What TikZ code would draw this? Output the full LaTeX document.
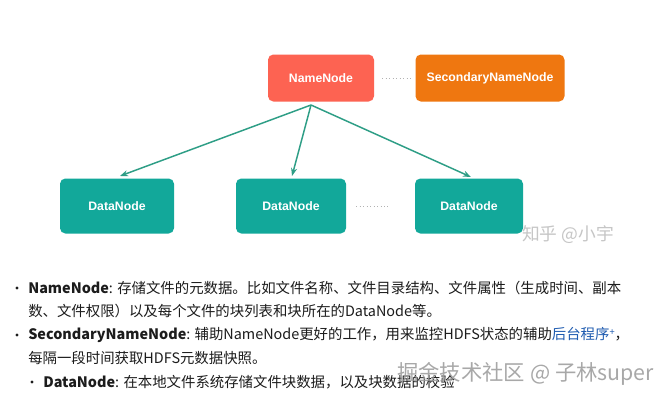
\documentclass[tikz,border=0pt]{standalone}
\usepackage{fontspec}
\setmainfont{Liberation Sans}
\newfontfamily\cjk{Noto Sans CJK SC}
\usetikzlibrary{arrows.meta}
\definecolor{nnred}{HTML}{FD6352}
\definecolor{snnor}{HTML}{EF7710}
\definecolor{dteal}{HTML}{12A89A}
\definecolor{arr}{HTML}{2E9E86}
\definecolor{txtc}{HTML}{1C1C1C}
\definecolor{linkb}{HTML}{1E5BB0}
\begin{document}
\begin{tikzpicture}[x=0.75pt,y=-0.75pt,
  box/.style={rectangle, rounded corners=4pt, text=white, inner sep=0pt,
    font=\fontsize{9.2}{11}\selectfont\bfseries},
  conn/.style={arr, line width=1.1pt, -{Stealth[length=6pt,width=4.5pt]}},
  dots/.style={gray!60, line width=0.6pt, dotted},
  txt/.style={anchor=west, inner sep=0pt, text=txtc, font=\cjk\fontsize{10.8}{12}\selectfont},
  bul/.style={circle, fill=txtc, inner sep=0pt, minimum size=2.6pt},
  wm/.style={inner sep=0pt, text=gray!55, font=\cjk}
]
\useasboundingbox (0,0) rectangle (666,400);
\fill[white] (0,0) rectangle (666,400);

\node[box, fill=nnred, minimum width=79.5pt, minimum height=35.25pt] (nn) at (321,78) {NameNode};
\node[box, fill=snnor, minimum width=111.75pt, minimum height=35.25pt] (snn) at (490,78) {SecondaryNameNode};
\node[box, fill=dteal, minimum width=85.5pt, minimum height=41.25pt] (d1) at (117,206) {DataNode};
\node[box, fill=dteal, minimum width=82.5pt, minimum height=41.25pt] (d2) at (291,206) {DataNode};
\node[box, fill=dteal, minimum width=81pt, minimum height=41.25pt] (d3) at (469,206) {DataNode};

\coordinate (src) at (311,105);
\coordinate (e1) at (120,176);
\coordinate (e2) at (292,176);
\coordinate (e3) at (471,177);
\draw[conn] (src) -- (e1);
\draw[conn] (src) -- (e2);
\draw[conn] (src) -- (e3);

\draw[dots, shorten <=6pt, shorten >=1.5pt] (nn.east) -- (snn.west);
\draw[dots, shorten <=7.5pt, shorten >=18pt] (d2.east) -- (d3.west);

\node[wm, text=gray!45, font=\cjk\fontsize{13.3}{14}\selectfont] (zh) at (568,235) {知乎 @小宇};

\node[bul] (b1) at (17,288) {};
\node[txt] (l1) at (28,288) {\textbf{NameNode}: 存储文件的元数据。比如文件名称、文件目录结构、文件属性（生成时间、副本};
\node[txt] (l2) at (28,311.5) {数、文件权限）以及每个文件的块列表和块所在的DataNode等。};
\node[bul] (b2) at (17,335) {};
\node[txt] (l3) at (28,335) {\textbf{SecondaryNameNode}: 辅助NameNode更好的工作，用来监控HDFS状态的辅助\textcolor{linkb}{后台程序\raisebox{0.45ex}{\fontsize{7}{8}\selectfont +}}，};
\node[txt] (l4) at (28,358.5) {每隔一段时间获取HDFS元数据快照。};
\node[bul] (b3) at (32,382) {};
\node[txt] (l5) at (43,382) {\textbf{DataNode}: 在本地文件系统存储文件块数据，以及块数据的校验};

\node[wm, anchor=west, text=gray!80, opacity=0.85, font=\cjk\fontsize{16}{17}\selectfont] (jj) at (397,374) {掘金技术社区 @ 子林super};
\end{tikzpicture}
\end{document}
